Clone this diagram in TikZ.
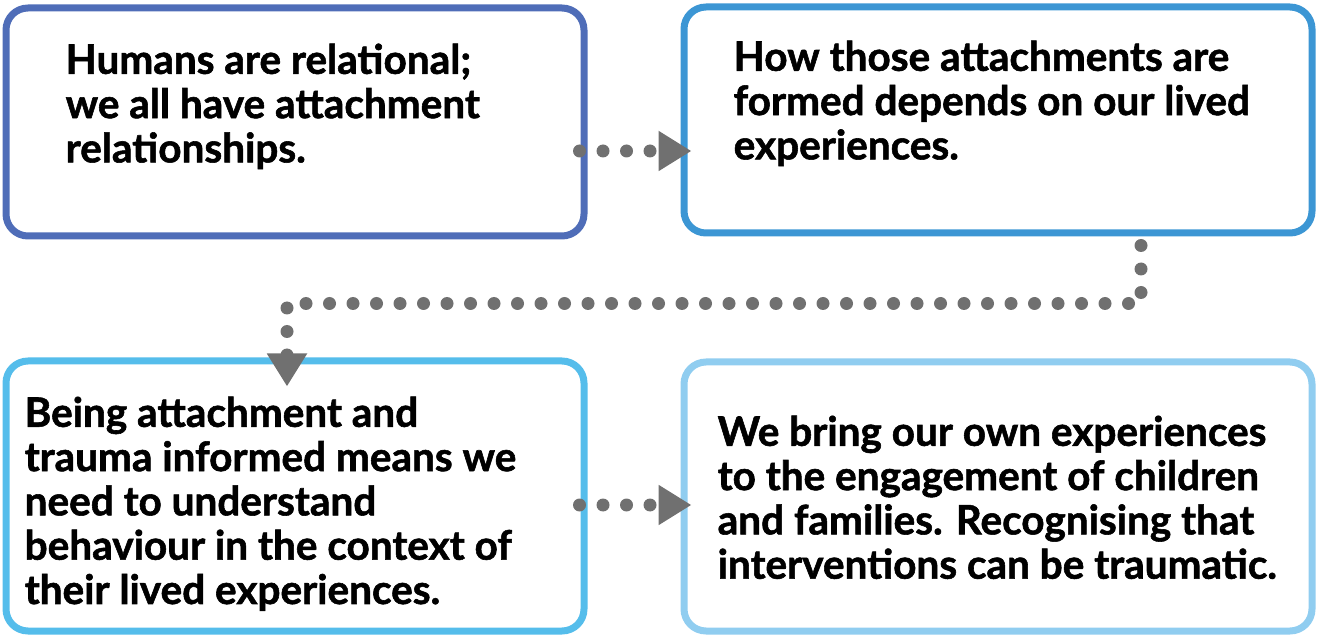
\documentclass[tikz,border=0pt]{standalone}
\usepackage{fontspec}
\setmainfont{Lato}[BoldFeatures={FakeBold=1.4}]
\usepackage{tikz}
\usetikzlibrary{arrows.meta, positioning}
\definecolor{boxone}{HTML}{4F6DB8}
\definecolor{boxtwo}{HTML}{3C96D4}
\definecolor{boxthree}{HTML}{55BDEB}
\definecolor{boxfour}{HTML}{90CDF0}
\definecolor{dotgrey}{HTML}{707070}
\tikzstyle{card} = [rectangle, draw, line width=7pt, rounded corners=22pt]
\tikzstyle{words} = [anchor=north west, inner sep=0pt, align=left,
    font=\fontsize{40.5}{44.3}\selectfont\bfseries]
\tikzstyle{line} = [draw, dotgrey, line width=13pt, line cap=round,
    dash pattern=on 0pt off 23.5pt, -{Triangle[length=33pt,width=38pt]}]

\begin{document}
\begin{tikzpicture}[x=1pt,y=-1pt]
                \useasboundingbox (0,0) rectangle (1318,636);
                \node [card, boxone, minimum width=578pt, minimum height=228pt] at (295,122) (one) {};
                \node [card, boxtwo, minimum width=628pt, minimum height=226pt] at (998,120) (two) {};
                \node [card, boxthree, minimum width=578pt, minimum height=270pt] at (295,496) (three) {};
                \node [card, boxfour, minimum width=628pt, minimum height=269pt] at (998,496.5) (four) {};
                \node [words] at ([shift={(63,39)}]one.north west) (onetext)
                    {Humans are relational;\\we all have attachment\\relationships.};
                \node [words] at ([shift={(53,37)}]two.north west) (twotext)
                    {How those attachments are\\formed depends on our lived\\experiences.};
                \node [words] at ([shift={(22,39)}]three.north west) (threetext)
                    {Being attachment and\\trauma informed means we\\need to understand\\behaviour in the context of\\their lived experiences.};
                \node [words] at ([shift={(37,57)}]four.north west) (fourtext)
                    {We bring our own experiences\\to the engagement of children\\and families. Recognising that\\interventions can be traumatic.};
                % connectors
                \coordinate (turnstart) at ([shift={(143,9)}]two.south);
                \coordinate (turnend) at ([shift={(-8,29)}]three.north);
                \path [line] ([shift={(-8,29)}]one.east) -- ([shift={(11,31)}]two.west);
                \path [line] (turnstart) |- ([shift={(0,-83)}]turnend) -- (turnend);
                \path [line] ([shift={(-8,9)}]three.east) -- ([shift={(11,8.5)}]four.west);
            \end{tikzpicture}
\end{document}
